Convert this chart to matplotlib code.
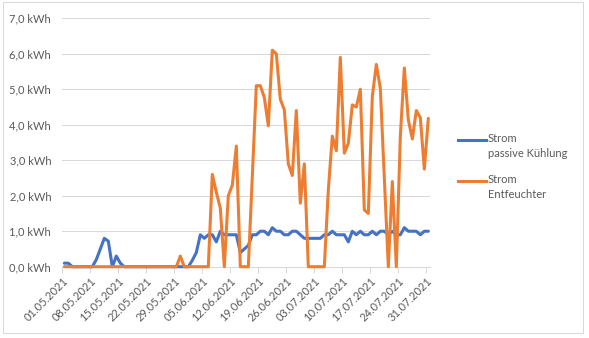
import matplotlib
matplotlib.use("Agg")
import matplotlib.pyplot as plt
from matplotlib.lines import Line2D
from matplotlib.patches import Rectangle
from matplotlib.ticker import FuncFormatter
import numpy as np
import pandas as pd

plt.rcParams["font.family"] = ["Lato", "DejaVu Sans"]

# daily readings 01.05.2021 - 31.07.2021 (kWh)
kuehlung = [
    0.1, 0.1, 0, 0, 0, 0, 0, 0, 0.2, 0.5,
    0.8, 0.72, 0, 0.3, 0.1, 0, 0, 0, 0, 0,
    0, 0, 0, 0, 0, 0, 0, 0, 0, 0,
    0, 0, 0.18, 0.4, 0.9, 0.8, 0.9, 0.9, 0.7, 1.0,
    0.9, 0.9, 0.9, 0.9, 0.4, 0.5, 0.6, 0.9, 0.9, 1.0,
    1.0, 0.9, 1.1, 1.0, 1.0, 0.9, 0.9, 1.0, 1.0, 0.9,
    0.8, 0.8, 0.8, 0.8, 0.8, 0.9, 0.9, 1.0, 0.9, 0.9,
    0.9, 0.7, 1.0, 0.9, 1.0, 0.9, 0.9, 1.0, 0.9, 1.0,
    1.0, 0.9, 1.0, 0.9, 0.9, 1.1, 1.0, 1.0, 1.0, 0.9,
    1.0, 1.0,
]
entfeuchter = [
    0, 0, 0, 0, 0, 0, 0, 0, 0, 0,
    0, 0, 0, 0, 0, 0, 0, 0, 0, 0,
    0, 0, 0, 0, 0, 0, 0, 0, 0, 0.3,
    0, 0, 0, 0, 0, 0, 0, 2.6, 2.1, 1.65,
    0, 2.0, 2.3, 3.4, 0, 0, 0, 2.55, 5.1, 5.1,
    4.77, 3.97, 6.1, 6.0, 4.72, 4.42, 2.9, 2.57, 4.4, 1.79,
    2.9, 0, 0, 0, 0, 0, 2.16, 3.68, 3.27, 5.9,
    3.2, 3.48, 4.56, 4.5, 5.0, 1.6, 1.5, 4.8, 5.7, 5.03,
    2.5, 0, 2.4, 0, 3.67, 5.6, 4.14, 3.6, 4.4, 4.2,
    2.75, 4.18,
]
start = pd.Timestamp("2021-05-01")
tick_days = np.arange(0, 92, 7)
tick_labels = [(start + pd.Timedelta(days=int(d))).strftime("%d.%m.%Y") for d in tick_days]

blue = "#4472C4"
orange = "#ED7D31"
grid = "#D9D9D9"
txt = "#595959"

fig = plt.figure(figsize=(5.89, 3.38), dpi=100)
ax = fig.add_axes([0.1058, 0.2109, 0.7306 - 0.1058, 0.9459 - 0.2109])

x = np.arange(len(kuehlung)) + 0.5
line_kw = dict(lw=2.2, solid_joinstyle="round", solid_capstyle="round", clip_on=False)
ax.plot(x, kuehlung, color=blue, zorder=3, **line_kw)
ax.plot(np.arange(len(entfeuchter)) + 0.5, entfeuchter, color=orange, zorder=4, **line_kw)

ax.set_xlim(0, 92)
ax.set_ylim(0, 7)
ax.set_yticks(np.arange(0, 8, 1))
ax.yaxis.set_major_formatter(FuncFormatter(lambda v, p: f"{v:.1f}".replace(".", ",") + " kWh"))
ax.grid(axis="y", color=grid, lw=0.75)
ax.set_axisbelow(True)
for s in ["top", "right", "left"]:
    ax.spines[s].set_visible(False)
ax.spines["bottom"].set_color(grid)
ax.spines["bottom"].set_linewidth(0.75)
ax.tick_params(axis="y", length=0, pad=8, labelsize=8, labelcolor=txt)

ax.set_xticks(tick_days)
ax.set_xticklabels(tick_labels, rotation=45, ha="right", rotation_mode="anchor")
ax.tick_params(axis="x", length=4, width=0.75, color=grid, labelsize=8, labelcolor=txt, pad=2)

# legend on the right, handle next to the first text line
for y_fig, col, label in [(1 - 140 / 338, blue, "Strom\npassive Kühlung"),
                          (1 - 181 / 338, orange, "Strom\nEntfeuchter")]:
    fig.add_artist(Line2D([458 / 589, 486 / 589], [y_fig, y_fig], color=col, lw=2.2,
                          transform=fig.transFigure))
    fig.text(488 / 589, y_fig + 7 / 338, label, color=txt, fontsize=8, va="top",
             ha="left", linespacing=1.45)

fig.add_artist(Rectangle((2.7 / 589, 1 - 332.7 / 338), 580.6 / 589, 330.4 / 338,
                         transform=fig.transFigure, fill=False, ec=grid, lw=0.75))

fig.savefig("out.png", dpi=100)
